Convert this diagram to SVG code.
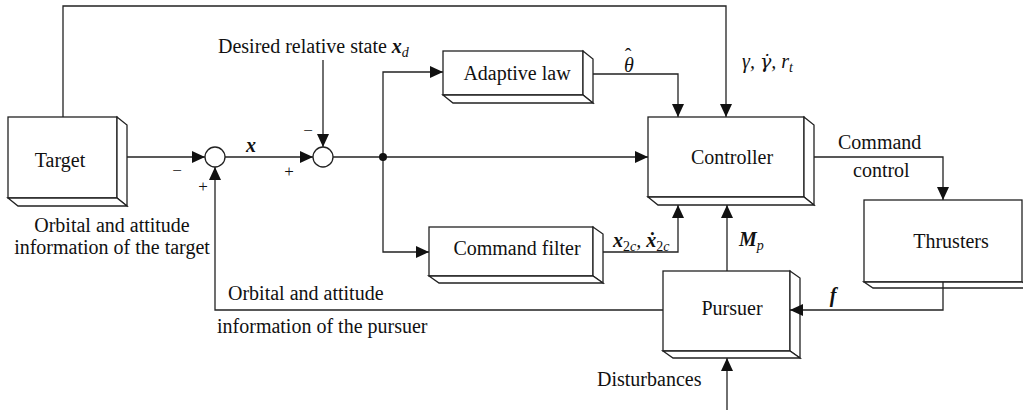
<svg xmlns="http://www.w3.org/2000/svg" width="1023" height="410" viewBox="0 0 1023 410">
<style>
.t{font-family:"Liberation Serif","Times New Roman",serif;font-size:20px;fill:#111}
.m{font-family:"Liberation Serif","Times New Roman",serif;font-size:20px;fill:#111;font-style:italic}
.dj{font-family:"DejaVu Serif","Liberation Serif",serif;font-size:19px;font-style:italic}
.b{font-weight:bold;font-style:italic}
.s{font-size:14px}
.sg{font-family:"Liberation Serif","DejaVu Serif",serif;font-size:17px;fill:#111}
.ln{fill:none;stroke:#222;stroke-width:1.3}
.bx{fill:#fff;stroke:#222;stroke-width:1.3;stroke-linejoin:miter}
</style>
<defs>
<marker id="ah" markerUnits="userSpaceOnUse" markerWidth="14" markerHeight="12" refX="13" refY="6" orient="auto">
<path d="M0,0 L13,6 L0,12 Z" fill="#111"/>
</marker>
</defs>
<rect width="1023" height="410" fill="#fff"/>

<g id="connectors">
<path class="ln" d="M63,117 V6 H726 V117" marker-end="url(#ah)"/>
<path class="ln" d="M117,157 H205" marker-end="url(#ah)"/>
<path class="ln" d="M225,157 H313" marker-end="url(#ah)"/>
<path class="ln" d="M323,60 V147" marker-end="url(#ah)"/>
<path class="ln" d="M333,157 H648" marker-end="url(#ah)"/>
<path class="ln" d="M383,157 V72 H443" marker-end="url(#ah)"/>
<path class="ln" d="M383,157 V252 H429" marker-end="url(#ah)"/>
<path class="ln" d="M583,74 H678 V117" marker-end="url(#ah)"/>
<path class="ln" d="M593,252 H678 V205" marker-end="url(#ah)"/>
<path class="ln" d="M727,271 V205" marker-end="url(#ah)"/>
<path class="ln" d="M804,157 H943 V200" marker-end="url(#ah)"/>
<path class="ln" d="M727,410 V358" marker-end="url(#ah)"/>
<path class="ln" d="M663,310 H215 V167" marker-end="url(#ah)"/>
<circle cx="383" cy="157" r="4" fill="#111"/>
</g>

<g id="sum1"><circle cx="215" cy="157" r="10" class="bx"/></g>
<g id="sum2"><circle cx="323" cy="157" r="10" class="bx"/></g>

<g id="target">
<rect class="bx" x="8" y="117" width="109" height="81"/>
<polygon class="bx" points="117,117 127,125 127,206 117,198"/>
<polygon class="bx" points="8,198 18,206 127,206 117,198"/>
<text class="t" x="60" y="167" text-anchor="middle">Target</text>
</g>

<g id="adaptive">
<rect class="bx" x="443" y="51" width="140" height="44"/>
<polygon class="bx" points="583,51 593,59 593,103 583,95"/>
<polygon class="bx" points="443,95 453,103 593,103 583,95"/>
<text class="t" x="517" y="80" text-anchor="middle">Adaptive law</text>
</g>

<g id="controller">
<rect class="bx" x="648" y="117" width="156" height="80"/>
<polygon class="bx" points="804,117 814,125 814,205 804,197"/>
<polygon class="bx" points="648,197 658,205 814,205 804,197"/>
<text class="t" x="732" y="164" text-anchor="middle">Controller</text>
</g>

<g id="cmdfilter">
<rect class="bx" x="429" y="227" width="164" height="49"/>
<polygon class="bx" points="593,227 603,234 603,283 593,276"/>
<polygon class="bx" points="429,276 439,283 603,283 593,276"/>
<text class="t" x="517" y="255" text-anchor="middle">Command filter</text>
</g>

<g id="thrusters">
<rect class="bx" x="864" y="200" width="158" height="82"/>
<polygon class="bx" points="864,282 873,288 1032,288 1022,282"/>
<text class="t" x="951" y="248" text-anchor="middle">Thrusters</text>
</g>

<g id="pursuer">
<rect class="bx" x="663" y="271" width="127" height="80"/>
<polygon class="bx" points="790,271 800,278 800,358 790,351"/>
<polygon class="bx" points="663,351 673,358 800,358 790,351"/>
<text class="t" x="732" y="315" text-anchor="middle">Pursuer</text>
</g>
<g id="thrust-link">
<path class="ln" d="M943,282 V310 H790" marker-end="url(#ah)"/>
</g>

<g id="labels">
<text class="sg" x="177" y="176" text-anchor="middle">−</text>
<text class="sg" x="203" y="192" text-anchor="middle">+</text>
<text class="sg" x="289" y="177" text-anchor="middle">+</text>
<text class="sg" x="308" y="136" text-anchor="middle">−</text>
<text class="m b" x="251" y="152" text-anchor="middle">x</text>
<text class="t" x="218" y="53">Desired relative state <tspan class="b">x</tspan><tspan class="s" dy="4" font-style="italic">d</tspan></text>
<text class="m" x="624" y="72">θ<tspan font-style="normal" dx="-9" dy="-9">ˆ</tspan></text>
<text class="m" x="742" y="68">γ, <tspan class="dj">γ̇</tspan>, r<tspan class="s" dy="4">t</tspan></text>
<text class="t" x="838" y="149">Command</text>
<text class="t" x="853" y="177">control</text>
<text class="m" x="613" y="247"><tspan class="b">x</tspan><tspan class="s" dy="4"><tspan font-style="normal">2</tspan>c</tspan><tspan dy="-4">, </tspan><tspan class="b">ẋ</tspan><tspan class="s" dy="4"><tspan font-style="normal">2</tspan>c</tspan></text>
<text class="m" x="739" y="246"><tspan class="b">M</tspan><tspan class="s" dy="4">p</tspan></text>
<text class="m b" x="833" y="302" text-anchor="middle">f</text>
<text class="t" x="112" y="232" text-anchor="middle">Orbital and attitude</text>
<text class="t" x="112" y="254" text-anchor="middle">information of the target</text>
<text class="t" x="228" y="300">Orbital and attitude</text>
<text class="t" x="217" y="333">information of the pursuer</text>
<text class="t" x="597" y="386">Disturbances</text>
</g>
</svg>
